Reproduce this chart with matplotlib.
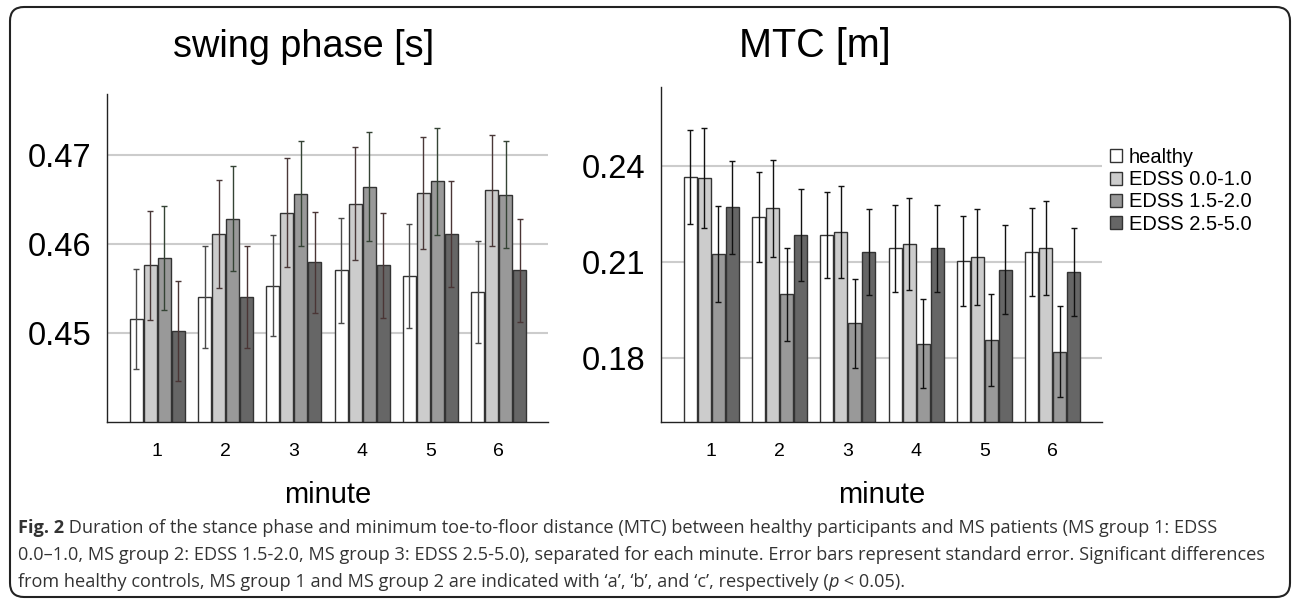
import matplotlib
matplotlib.use("Agg")
import matplotlib.pyplot as plt
import numpy as np
from matplotlib.patches import FancyBboxPatch
from matplotlib.transforms import IdentityTransform

W, H = 1292, 601

minutes = [1, 2, 3, 4, 5, 6]
groups = ["healthy", "EDSS 0.0-1.0", "EDSS 1.5-2.0", "EDSS 2.5-5.0"]
bar_colors = ["#ffffff", "#cccccc", "#999999", "#666666"]

# swing phase [s], mean and standard error per minute
swing_healthy = [0.4516, 0.4540, 0.4553, 0.4570, 0.4564, 0.4546]
swing_edss1 = [0.4576, 0.4611, 0.4635, 0.4645, 0.4657, 0.4660]
swing_edss2 = [0.4584, 0.4628, 0.4656, 0.4664, 0.4670, 0.4655]
swing_edss3 = [0.4502, 0.4540, 0.4579, 0.4576, 0.4611, 0.4570]
swing_se_healthy = [0.0056, 0.0057, 0.0057, 0.0059, 0.0058, 0.0057]
swing_se_edss1 = [0.0061, 0.0061, 0.0061, 0.0063, 0.0063, 0.0062]
swing_se_edss2 = [0.0058, 0.0059, 0.0059, 0.0061, 0.0060, 0.0060]
swing_se_edss3 = [0.0056, 0.0057, 0.0057, 0.0059, 0.0059, 0.0058]

# MTC [m]
mtc_healthy = [0.2366, 0.2241, 0.2185, 0.2143, 0.2103, 0.2133]
mtc_edss1 = [0.2364, 0.2268, 0.2194, 0.2157, 0.2117, 0.2145]
mtc_edss2 = [0.2126, 0.1999, 0.1909, 0.1845, 0.1856, 0.1820]
mtc_edss3 = [0.2272, 0.2185, 0.2132, 0.2143, 0.2076, 0.2070]
mtc_se_healthy = [0.0146, 0.0140, 0.0135, 0.0135, 0.0140, 0.0138]
mtc_se_edss1 = [0.0157, 0.0151, 0.0145, 0.0144, 0.0150, 0.0147]
mtc_se_edss2 = [0.0151, 0.0146, 0.0139, 0.0139, 0.0144, 0.0143]
mtc_se_edss3 = [0.0146, 0.0143, 0.0135, 0.0135, 0.0139, 0.0138]

swing_ticks = [0.45, 0.46, 0.47]
mtc_ticks = [0.18, 0.21, 0.24]

plt.rcParams["font.family"] = ["Liberation Sans", "DejaVu Sans"]

fig = plt.figure(figsize=(W / 100, H / 100), dpi=100)


def bar_panel(ax, means, errs, err_colors, ticks, ylim):
    x = np.array(minutes, dtype=float)
    offsets = [-0.3075, -0.1025, 0.1025, 0.3075]
    for m, e, off, fc, ec in zip(means, errs, offsets, bar_colors, err_colors):
        ax.bar(x + off, m, width=0.19, color=fc, edgecolor="#333333",
               linewidth=1.0, zorder=2)
        ax.errorbar(x + off, m, yerr=e, fmt="none", ecolor=ec,
                    elinewidth=1.0, capsize=2.4, capthick=1.0, zorder=3)
    ax.set_xlim(0.265, 6.72)
    ax.set_ylim(*ylim)
    ax.set_yticks(ticks)
    ax.set_yticklabels([f"{t:.2f}" for t in ticks])
    ax.set_xticks(minutes)
    ax.yaxis.grid(True, color="#cccccc", linewidth=1.5)
    ax.set_axisbelow(True)
    for s in ["top", "right"]:
        ax.spines[s].set_visible(False)
    for s in ["left", "bottom"]:
        ax.spines[s].set_color("#222222")
        ax.spines[s].set_linewidth(1.0)
    ax.tick_params(axis="y", length=0, pad=11, labelsize=23.5)
    ax.tick_params(axis="x", length=0, pad=15, labelsize=14)
    ax.set_xlabel("minute", fontsize=21, labelpad=15)


ax1 = fig.add_axes([107 / W, 1 - 422 / H, 441 / W, (422 - 94) / H])
bar_panel(ax1,
          [swing_healthy, swing_edss1, swing_edss2, swing_edss3],
          [swing_se_healthy, swing_se_edss1, swing_se_edss2, swing_se_edss3],
          ["#4a4a4a", "#4a3838", "#344334", "#4a3535"],
          swing_ticks, (0.44, 0.4768))

ax2 = fig.add_axes([661 / W, 1 - 422 / H, 441 / W, (422 - 87) / H])
bar_panel(ax2,
          [mtc_healthy, mtc_edss1, mtc_edss2, mtc_edss3],
          [mtc_se_healthy, mtc_se_edss1, mtc_se_edss2, mtc_se_edss3],
          ["#111111"] * 4,
          mtc_ticks, (0.16, 0.2648))

fig.text(304 / W, 1 - 57 / H, "swing phase [s]", fontsize=27.3,
         ha="center", va="baseline")
fig.text(815 / W, 1 - 57 / H, "MTC [m]", fontsize=28.5,
         ha="center", va="baseline")

handles = [plt.Rectangle((0, 0), 1, 1, facecolor=c, edgecolor="#333333",
                         linewidth=1.0) for c in bar_colors]
fig.legend(handles, groups, loc="upper left",
           bbox_to_anchor=(1110 / W, 1 - 148 / H), frameon=False,
           fontsize=14.5, handlelength=0.62, handleheight=0.62,
           handletextpad=0.3, labelspacing=0.16, borderpad=0,
           borderaxespad=0)

# rounded frame around the figure
frame = FancyBboxPatch((10, 4), 1280, 590,
                       boxstyle="round,pad=0,rounding_size=14",
                       transform=IdentityTransform(), facecolor="none",
                       edgecolor="#222222", linewidth=1.5)
fig.patches.append(frame)

# caption
renderer = fig.canvas.get_renderer()
cap_font = ["Open Sans", "DejaVu Sans"]
cap_size = 13.1


def caption_line(parts, y_px, x_px=18):
    for txt, kw in parts:
        t = fig.text(x_px / W, 1 - y_px / H, txt, fontsize=cap_size,
                     family=cap_font, color="#333333", va="baseline", **kw)
        x_px += t.get_window_extent(renderer).width


caption_line([("Fig. 2", {"weight": "bold"}),
              (" Duration of the stance phase and minimum toe-to-floor distance "
               "(MTC) between healthy participants and MS patients "
               "(MS group 1: EDSS", {})], 533)
caption_line([("0.0\u20131.0, MS group 2: EDSS 1.5-2.0, MS group 3: EDSS 2.5-5.0), "
               "separated for each minute. Error bars represent standard error. "
               "Significant differences", {})], 560)
caption_line([("from healthy controls, MS group 1 and MS group 2 are indicated "
               "with \u2018a\u2019, \u2018b\u2019, and \u2018c\u2019, "
               "respectively (", {}),
              ("p", {"style": "italic"}),
              (" < 0.05).", {})], 587)

fig.savefig("out.png", dpi=100)
